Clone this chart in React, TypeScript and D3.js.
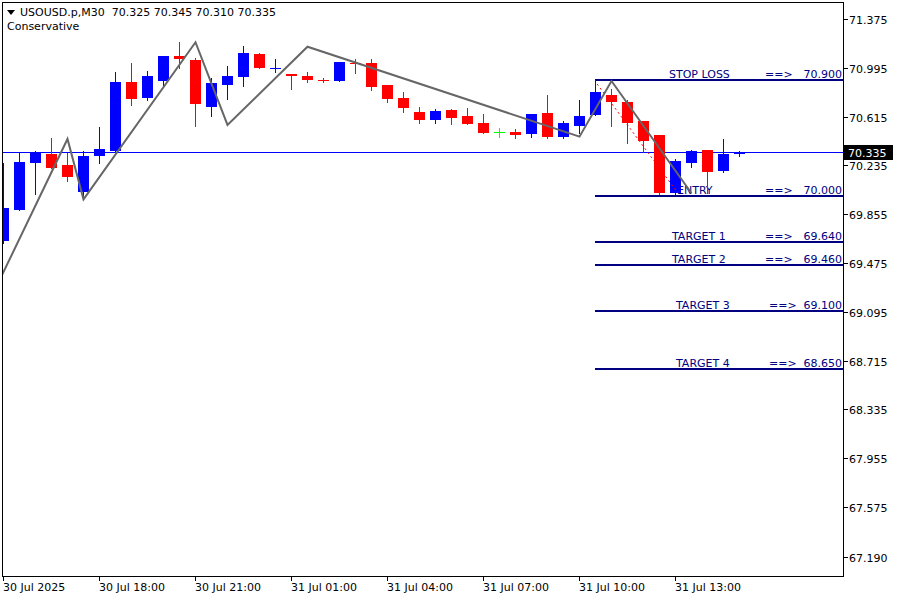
import React from 'react';
import * as d3 from 'd3';

// ---- data (M30 candles, index 0 = 30 Jul 15:00) ----
const candleOpen = [69.649, 69.890, 70.256, 70.324, 70.238, 70.030, 70.311, 70.347, 70.884, 70.762,
  70.894, 71.087, 71.056, 70.692, 70.861, 70.923, 71.102, 70.990, 70.947, 70.931,
  70.902, 70.892, 71.032, 71.032, 70.861, 70.760, 70.651, 70.591, 70.667, 70.620,
  70.565, 70.493, 70.495, 70.482, 70.643, 70.459, 70.544, 70.630, 70.783, 70.729,
  70.583, 70.474, 70.018, 70.256, 70.357, 70.194, 70.325];
const candleHigh = [70.251, 70.337, 70.347, 70.448, 70.334, 70.347, 70.534, 70.962, 71.032, 70.970,
  71.087, 71.198, 71.069, 70.913, 71.009, 71.165, 71.110, 71.064, 70.947, 70.962,
  70.916, 71.040, 71.064, 71.064, 70.861, 70.807, 70.690, 70.674, 70.674, 70.682,
  70.635, 70.524, 70.518, 70.635, 70.783, 70.581, 70.744, 70.900, 70.830, 70.744,
  70.583, 70.474, 70.283, 70.357, 70.357, 70.441, 70.345];
const candleLow = [69.631, 69.888, 70.012, 70.215, 70.114, 69.977, 70.256, 70.345, 70.705, 70.744,
  70.848, 70.996, 70.544, 70.622, 70.752, 70.853, 70.996, 70.965, 70.830, 70.885,
  70.887, 70.892, 70.957, 70.825, 70.731, 70.653, 70.568, 70.568, 70.560, 70.558,
  70.488, 70.459, 70.451, 70.459, 70.451, 70.451, 70.490, 70.628, 70.544, 70.412,
  70.342, 70.015, 70.012, 70.225, 70.023, 70.186, 70.310];
const candleClose = [69.903, 70.262, 70.337, 70.217, 70.147, 70.308, 70.363, 70.884, 70.754, 70.931,
  71.087, 71.066, 70.716, 70.877, 70.931, 71.110, 70.996, 70.992, 70.934, 70.902,
  70.895, 71.040, 71.029, 70.848, 70.754, 70.684, 70.591, 70.659, 70.607, 70.560,
  70.490, 70.493, 70.474, 70.635, 70.459, 70.565, 70.620, 70.807, 70.729, 70.568,
  70.427, 70.023, 70.272, 70.350, 70.186, 70.324, 70.335];

const timeLabels = ['30 Jul 2025', '30 Jul 18:00', '30 Jul 21:00', '31 Jul 01:00', '31 Jul 04:00',
  '31 Jul 07:00', '31 Jul 10:00', '31 Jul 13:00'];
const timeLabelIndex = [0, 6, 12, 18, 24, 30, 36, 42];

const priceTicks = [71.375, 70.995, 70.615, 70.235, 69.855, 69.475, 69.095, 68.715, 68.335, 67.955, 67.575, 67.190];

const levelNames = ['STOP LOSS', 'ENTRY', 'TARGET 1', 'TARGET 2', 'TARGET 3', 'TARGET 4'];
const levelValues = [70.9, 70.0, 69.64, 69.46, 69.10, 68.65];
const levelStartIndex = 37;

const zigzagIndex = [-1, 4, 5, 12, 14, 19, 36, 38, 43];
const zigzagPrice = [69.146, 70.441, 69.971, 71.194, 70.550, 71.159, 70.459, 70.892, 70.018];

const trendIndex = [37.1, 42.15];
const trendPrice = [70.869, 70.020];

const currentPrice = 70.335;
const headerSymbol = 'USOUSD.p,M30';
const headerOHLC = [70.325, 70.345, 70.310, 70.335];
const indicatorName = 'Conservative';

const FONT = '"DejaVu Sans", Verdana, sans-serif';

export default function App() {
  const W = 900, H = 600;
  const plotL = 2.5, plotR = 843.5, plotT = 2.5, plotB = 576.5;

  const x = d3.scaleLinear().domain([0, 46]).range([3.5, 739.5]);
  const y = d3.scaleLinear().domain([67.19, 71.375]).range([556.5, 19.0]);

  const zigzag = d3.line<number>()
    .x((_, i) => x(zigzagIndex[i]))
    .y((d) => y(d));
  const trend = d3.line<number>()
    .x((_, i) => x(trendIndex[i]))
    .y((d) => y(d));

  const nameStart = [669, 677, 672, 672, 676, 676];
  const arrowStart = [765, 765, 765, 765, 769, 769];

  const curY = Math.floor(y(currentPrice)) + 0.5;

  return (
    <svg width={W} height={H} style={{ position: 'absolute', left: 0, top: 0, background: '#fff' }}
      fontFamily={FONT}>
      <defs>
        <clipPath id="plotClip">
          <rect x={3} y={3} width={840} height={573} />
        </clipPath>
      </defs>
      <rect x={0} y={0} width={W} height={H} fill="#fff" />

      {/* current price line */}
      <line x1={3} x2={843} y1={curY} y2={curY} stroke="#0000ff" strokeWidth={1} shapeRendering="crispEdges" />

      {/* level lines and labels */}
      {levelValues.map((v, i) => {
        const ly = Math.round(y(v));
        return (
          <g key={'lv' + i}>
            <line x1={x(levelStartIndex) - 0.5} x2={843} y1={ly} y2={ly} stroke="#000080" strokeWidth={2}
              shapeRendering="crispEdges" />
            <text x={nameStart[i]} y={ly - 2} fontSize={11} fill="#000080">{levelNames[i]}</text>
            <text x={arrowStart[i]} y={ly - 2} fontSize={11} fill="#000080">==&gt;</text>
            <text x={842} y={ly - 2} fontSize={11} fill="#000080" textAnchor="end">{v.toFixed(3)}</text>
          </g>
        );
      })}

      <g clipPath="url(#plotClip)">
        {/* candles */}
        {candleOpen.map((o, i) => {
          const c = candleClose[i];
          const cx = x(i);
          const color = c > o ? '#0000ff' : c < o ? '#ff0000' : '#00ff00';
          const yt = Math.round(y(Math.max(o, c)));
          const yb = Math.round(y(Math.min(o, c)));
          const yh = Math.round(y(candleHigh[i]));
          const yl = Math.round(y(candleLow[i]));
          return (
            <g key={'c' + i} fill={color} shapeRendering="crispEdges">
              <rect x={cx - 0.5} y={yh} width={1} height={Math.max(1, yl - yh + 1)} />
              <rect x={cx - 5.5} y={yt} width={11} height={Math.max(1, yb - yt)} />
            </g>
          );
        })}

        {/* red dotted trend line */}
        <path d={trend(trendPrice) || ''} fill="none" stroke="#ff0000" strokeWidth={1} strokeDasharray="2,3" />

        {/* zigzag */}
        <path d={zigzag(zigzagPrice) || ''} fill="none" stroke="#666666" strokeWidth={2} strokeLinejoin="miter" />
      </g>

      {/* frame */}
      <rect x={plotL} y={plotT} width={plotR - plotL} height={plotB - plotT} fill="none" stroke="#000"
        strokeWidth={1} shapeRendering="crispEdges" />

      {/* right price axis */}
      {priceTicks.map((p, i) => {
        const ty = Math.round(y(p)) + 0.5;
        return (
          <g key={'pt' + i}>
            <line x1={844} x2={848} y1={ty} y2={ty} stroke="#000" shapeRendering="crispEdges" />
            <text x={849} y={ty + 4} fontSize={11} fill="#000">{p.toFixed(3)}</text>
          </g>
        );
      })}

      {/* current price tag */}
      <rect x={844} y={curY - 7.5} width={49} height={15} fill="#000" />
      <text x={848} y={curY + 4} fontSize={11} fill="#fff">{currentPrice.toFixed(3)}</text>

      {/* time axis */}
      {timeLabelIndex.map((idx, i) => {
        const tx = x(idx) - 0.5;
        return (
          <g key={'tt' + i}>
            <line x1={tx + 0.5} x2={tx + 0.5} y1={577} y2={581} stroke="#000" shapeRendering="crispEdges" />
            <text x={tx} y={591} fontSize={11} fill="#000">{timeLabels[i]}</text>
          </g>
        );
      })}

      {/* header */}
      <polygon points="7,10 15,10 11,15" fill="#000" />
      <text x={20} y={16} fontSize={11} fill="#000" style={{ whiteSpace: 'pre' }} xmlSpace="preserve">
        {headerSymbol + '  ' + headerOHLC.map((v) => v.toFixed(3)).join(' ')}
      </text>
      <text x={7} y={30} fontSize={11} fill="#000">{indicatorName}</text>
    </svg>
  );
}
